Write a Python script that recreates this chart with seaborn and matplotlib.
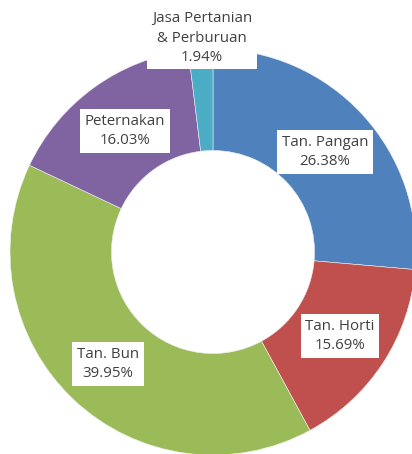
import matplotlib
matplotlib.use('Agg')
import matplotlib.pyplot as plt
import seaborn as sns

# Data
sectors = ['Tan. Pangan', 'Tan. Horti', 'Tan. Bun', 'Peternakan', 'Jasa Pertanian\n& Perburuan']
shares = [26.38, 15.69, 39.95, 16.03, 1.94]
colors = ['#4F81BD', '#C0504D', '#9BBB59', '#8064A2', '#4BACC6']

# label box centres in pixel space (from top-left)
label_px = [(325, 152), (340, 336), (108, 364), (125, 131), (202, 38)]

sns.set_theme(style='white')
plt.rcParams['font.family'] = ['Open Sans', 'DejaVu Sans']

W, H = 412, 454
cx, cy, R = 213, 252, 203

fig = plt.figure(figsize=(W / 100, H / 100), dpi=100)
ax = fig.add_axes([0, 0, 1, 1])

ax.pie(shares, colors=colors, startangle=90, counterclock=False,
       radius=1.0, wedgeprops=dict(width=0.5, edgecolor='#f0f0f0', linewidth=0.4))

ax.set_xlim(-cx / R, (W - cx) / R)
ax.set_ylim(-(H - cy) / R, cy / R)
ax.set_aspect('auto')
ax.axis('off')

for name, val, (px, py) in zip(sectors, shares, label_px):
    x = (px - cx) / R
    y = (cy - py) / R
    ax.text(x, y, f'{name}\n{val:.2f}%', ha='center', va='center',
            fontsize=10.8, color='#404040', linespacing=1.4,
            bbox=dict(boxstyle='square,pad=0.3', fc='white', ec='none'))

fig.savefig('out.png', dpi=100)
